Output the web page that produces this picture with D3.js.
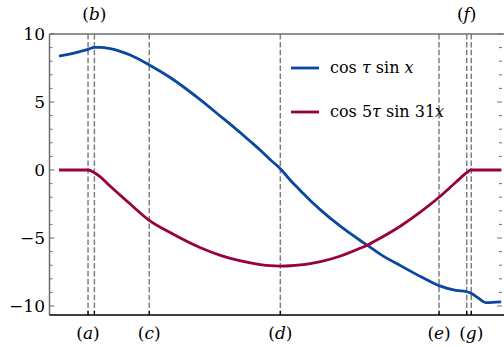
<!DOCTYPE html>
<html>
<head>
<meta charset="utf-8">
<script src="https://cdn.jsdelivr.net/npm/d3@7"></script>
<style>
  body { margin: 0; background: #fff; }
  svg { display: block; }
  text { font-family: "DejaVu Serif", serif; }
</style>
</head>
<body>
<div id="chart"></div>
<script>
// Curve samples (x in axis units 0..100)
const xs = [2.1, 5.6, 8.5, 9.9, 11.2, 13.4, 15.6, 17.8, 22.0, 26.6, 33.3, 37.7, 39.9, 44.3, 46.5, 48.7,
  50.9, 53.1, 55.3, 57.5, 59.8, 64.2, 68.6, 70.4, 73.0, 77.5, 81.9, 85.9, 89.6, 92.0, 92.9, 94.7, 96.2, 99.6];
const blueVals = [8.38, 8.62, 8.87, 9.02, 9.02, 8.92, 8.72, 8.45, 7.72, 6.8, 5.15, 3.95, 3.35, 2.1, 1.45, 0.75,
  0.1, -0.75, -1.5, -2.25, -2.95, -4.15, -5.2, -5.6, -6.2, -7.05, -7.85, -8.5, -8.85, -8.95, -9.05, -9.45, -9.75, -9.7];
const redVals = [0, 0, 0, -0.2, -0.5, -1.2, -1.85, -2.5, -3.7, -4.6, -5.72, -6.28, -6.5, -6.83, -6.95, -7.03,
  -7.06, -7.04, -6.98, -6.88, -6.73, -6.32, -5.74, -5.47, -5.0, -4.1, -3.06, -2.0, -0.9, -0.2, 0, 0, 0, 0];

// Markers (vertical dashed lines)
const markerX = [8.5, 9.9, 22.0, 50.9, 85.9, 92.0, 93.0];
const bottomLabels = [['a', 8.5], ['c', 22.0], ['d', 50.9], ['e', 85.9], ['g', 93.0]];
const topLabels = [['b', 9.9], ['f', 92.0]];

const yTicks = [10, 5, 0, -5, -10];

const width = 504, height = 347;
const margin = { top: 34, right: 1, bottom: 32, left: 49.5 };

const svg = d3.select('#chart').append('svg').attr('width', width).attr('height', height);

const x = d3.scaleLinear().domain([0, 100]).range([margin.left, width - margin.right]);
const y = d3.scaleLinear().domain([-10.66, 10]).range([height - margin.bottom, margin.top]);

// dashed marker lines
svg.selectAll('.marker')
  .data(markerX)
  .enter()
  .append('line')
  .attr('x1', (d) => x(d)).attr('x2', (d) => x(d))
  .attr('y1', y.range()[1]).attr('y2', y.range()[0])
  .attr('stroke', '#808080')
  .attr('stroke-width', 1.5)
  .attr('stroke-dasharray', '5.5,2.4');

// bottom ticks at markers
svg.selectAll('.btick')
  .data(markerX)
  .enter()
  .append('line')
  .attr('x1', (d) => x(d)).attr('x2', (d) => x(d))
  .attr('y1', y.range()[0]).attr('y2', y.range()[0] - 4)
  .attr('stroke', '#000')
  .attr('stroke-width', 1.2);

// y ticks (left and right, inward)
const minor = d3.range(-10, 11, 1);
const ticksG = svg.append('g');
[[x.range()[0], 1], [x.range()[1] - 1, -1]].forEach(([x0, dir]) => {
  ticksG.selectAll(null)
    .data(minor)
    .enter()
    .append('line')
    .attr('x1', x0).attr('x2', (d) => x0 + dir * (d % 5 === 0 ? 5 : 3))
    .attr('y1', (d) => y(d)).attr('y2', (d) => y(d))
    .attr('stroke', '#6e6e6e')
    .attr('stroke-width', 1);
});

// spines
svg.append('line')
  .attr('x1', x.range()[0]).attr('x2', x.range()[0])
  .attr('y1', y.range()[1]).attr('y2', y.range()[0])
  .attr('stroke', '#6e6e6e').attr('stroke-width', 1.5);
svg.append('line')
  .attr('x1', x.range()[0]).attr('x2', width)
  .attr('y1', y.range()[1]).attr('y2', y.range()[1])
  .attr('stroke', '#6e6e6e').attr('stroke-width', 1.5);
svg.append('line')
  .attr('x1', x.range()[0]).attr('x2', width)
  .attr('y1', y.range()[0]).attr('y2', y.range()[0])
  .attr('stroke', '#000').attr('stroke-width', 1.5);

// y tick labels
svg.selectAll('.ylab')
  .data(yTicks)
  .enter()
  .append('text')
  .attr('x', 45)
  .attr('y', (d) => y(d) + 6)
  .attr('text-anchor', 'end')
  .attr('font-size', 17)
  .text((d) => (d < 0 ? '\u2212' + Math.abs(d) : d));

// marker labels
function markerLabel(arr, ypos) {
  const t = svg.selectAll(null)
    .data(arr)
    .enter()
    .append('text')
    .attr('x', (d) => x(d[1]))
    .attr('y', ypos)
    .attr('text-anchor', 'middle')
    .attr('font-size', 17);
  t.append('tspan').text('(');
  t.append('tspan').attr('font-style', 'italic').text((d) => d[0]);
  t.append('tspan').text(')');
}
markerLabel(bottomLabels, 339);
markerLabel(topLabels, 20);

// curves
const line = d3.line().x((d) => x(d[0])).y((d) => y(d[1])).curve(d3.curveMonotoneX);
const series = [
  { vals: blueVals, color: '#0a47a0' },
  { vals: redVals, color: '#990040' },
];
series.forEach((s) => {
  svg.append('path')
    .datum(xs.map((v, i) => [v, s.vals[i]]))
    .attr('d', line)
    .attr('fill', 'none')
    .attr('stroke', s.color)
    .attr('stroke-width', 2.8);
});

// legend
const legend = svg.append('g');
const legendItems = [
  { color: '#0a47a0', y: 68, parts: [['cos ', 0], ['\u03c4', 1], [' sin ', 0], ['x', 1]] },
  { color: '#990040', y: 112, parts: [['cos 5', 0], ['\u03c4', 1], [' sin 31', 0], ['x', 1]] },
];
legendItems.forEach((it) => {
  legend.append('line')
    .attr('x1', 291).attr('x2', 319)
    .attr('y1', it.y).attr('y2', it.y)
    .attr('stroke', it.color).attr('stroke-width', 2.8);
  const t = legend.append('text')
    .attr('x', 330).attr('y', it.y + 5)
    .attr('font-size', 16)
    .attr('xml:space', 'preserve');
  it.parts.forEach((p) => {
    t.append('tspan').attr('font-style', p[1] ? 'italic' : 'normal').text(p[0]);
  });
});
</script>
</body>
</html>
